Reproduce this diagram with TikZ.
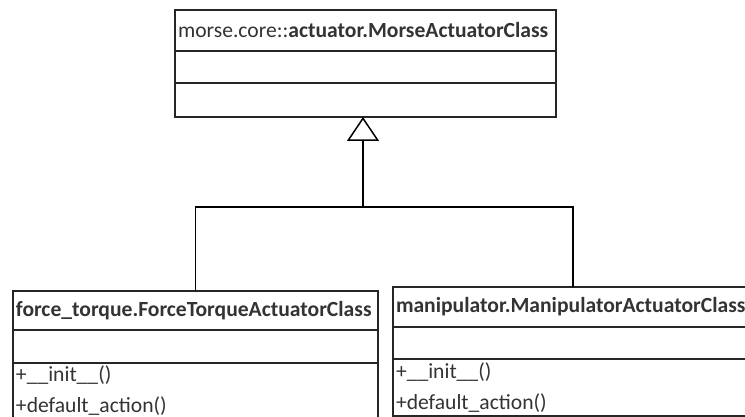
\documentclass[tikz,border=0pt]{standalone}
\usepackage{fontspec}
\setmainfont{Carlito}
\usetikzlibrary{positioning,arrows.meta}

\tikzset{
  umlpart/.style={draw=black!85, line width=1.5pt, outer sep=0pt, inner xsep=3pt, inner ysep=0pt,
    align=left, text=black!80, font=\fontsize{21.6}{31}\selectfont},
  umlline/.style={draw=black, line width=1.5pt},
}

\begin{document}
\begin{tikzpicture}[x=1pt,y=-1pt]
  \useasboundingbox (0,0) rectangle (745,417);
  \clip (0,0) rectangle (745,417);
  % parent class
  \node[umlpart, anchor=north west, text width=375pt, minimum height=41pt] (core) at (175,10)
    {morse.core::\textbf{actuator.MorseActuatorClass}};
  \node[umlpart, below=0pt of core, text width=375pt, minimum height=32pt] (coreattr) {};
  \node[umlpart, below=0pt of coreattr, text width=375pt, minimum height=34pt] (coremeth) {};
  % child classes
  \node[umlpart, anchor=north west, text width=359pt, minimum height=39pt] (ftorque) at (13,291)
    {\textbf{force\_torque.ForceTorqueActuatorClass}};
  \node[umlpart, below=0pt of ftorque, text width=359pt, minimum height=33pt] (ftorqueattr) {};
  \node[umlpart, below=0pt of ftorqueattr, text width=359pt, minimum height=56pt] (ftorquemeth)
    {+\_\_init\_\_()\\+default\_action()};
  \node[umlpart, anchor=north west, text width=354pt, minimum height=40pt] (manip) at (393,287)
    {\textbf{manipulator.ManipulatorActuatorClass}};
  \node[umlpart, below=0pt of manip, text width=354pt, minimum height=32pt] (manipattr) {};
  \node[umlpart, below=0pt of manipattr, text width=354pt, minimum height=57pt] (manipmeth)
    {+\_\_init\_\_()\\+default\_action()};
  % generalisation
  \coordinate (bus) at (363,207);
  \draw[umlline] (ftorque.north) |- (manip.north |- bus) -- (manip.north);
  \draw[umlline, -{Triangle[open, length=24pt, width=32pt]}] (bus) -- (bus |- coremeth.south);
\end{tikzpicture}
\end{document}
